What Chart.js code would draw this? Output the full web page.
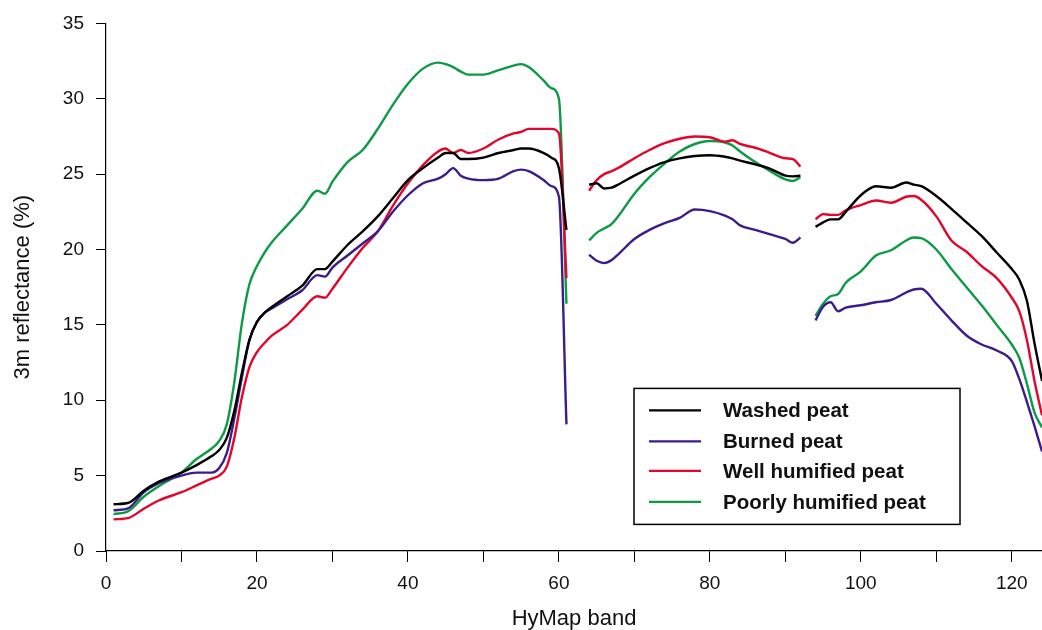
<!DOCTYPE html>
<html>
<head>
<meta charset="utf-8">
<script src="https://cdn.jsdelivr.net/npm/chart.js@4.4.1/dist/chart.umd.min.js"></script>
<style>
  html, body { margin: 0; padding: 0; background: #fff; }
  #wrap { width: 1042px; height: 630px; position: relative; }
</style>
</head>
<body>
<div id="wrap"><canvas id="c" width="1042" height="630"></canvas></div>
<script>
// HyMap band numbers (null values at 62 and 93 mark the gaps between detector segments)
const bands = [1,3,5,7,10,12,14,15,16,17,18,19,20,21,22,24,26,28,29,30,32,34,36,38,40,42,44,45,46,47,48,50,52,54,55,56,58,59,60,61,
  62,
  64,65,66,67,68,70,72,74,76,78,80,82,83,84,86,88,90,91,92,
  93,
  94,95,96,97,98,100,102,104,106,107,108,110,112,114,116,118,120,121,122,123,124];

const washedPeat = [3.1,3.2,4.0,4.6,5.2,5.7,6.3,6.7,7.5,9.3,11.8,14.0,15.2,15.8,16.2,16.9,17.6,18.7,18.7,19.2,20.3,21.2,22.2,23.4,24.6,25.4,26.1,26.4,26.4,26.0,26.0,26.1,26.4,26.6,26.7,26.7,26.4,26.1,25.4,21.3,
  null,
  24.3,24.4,24.05,24.1,24.35,24.9,25.4,25.8,26.05,26.2,26.25,26.15,26.05,25.9,25.65,25.35,24.9,24.85,24.9,
  null,
  21.5,21.8,22.0,22.0,22.5,23.6,24.2,24.1,24.45,24.3,24.2,23.55,22.7,21.8,20.9,19.8,18.7,18.0,16.6,13.8,11.3];

const burnedPeat = [2.7,2.85,3.9,4.5,5.0,5.2,5.2,5.5,6.5,8.8,11.5,14.0,15.2,15.8,16.1,16.7,17.3,18.3,18.2,18.8,19.6,20.4,21.2,22.5,23.6,24.4,24.7,25.0,25.4,24.9,24.7,24.6,24.7,25.2,25.3,25.2,24.6,24.2,23.5,8.4,
  null,
  19.65,19.25,19.1,19.3,19.75,20.7,21.3,21.75,22.1,22.65,22.55,22.25,22.0,21.6,21.3,21.0,20.7,20.45,20.8,
  null,
  15.3,16.2,16.5,15.9,16.15,16.3,16.5,16.65,17.15,17.35,17.4,16.4,15.3,14.3,13.7,13.3,12.6,11.4,9.9,8.3,6.6];

const wellHumified = [2.1,2.2,2.8,3.35,3.9,4.35,4.8,5.0,5.6,7.5,10.2,12.2,13.2,13.8,14.3,15.0,16.0,16.9,16.8,17.4,18.8,20.1,21.2,22.9,24.4,25.6,26.5,26.7,26.4,26.6,26.4,26.7,27.3,27.7,27.8,28.0,28.0,28.0,27.7,18.1,
  null,
  23.9,24.6,25.0,25.2,25.45,26.05,26.6,27.05,27.35,27.5,27.45,27.15,27.25,27.0,26.75,26.4,26.05,26.0,25.5,
  null,
  22.0,22.35,22.3,22.3,22.6,22.95,23.25,23.1,23.5,23.55,23.3,22.2,20.6,19.85,18.9,18.1,16.8,15.9,14.0,11.3,9.0];

const poorlyHumified = [2.45,2.65,3.6,4.3,5.2,6.1,6.8,7.3,8.4,11.2,15.1,17.7,18.9,19.8,20.5,21.6,22.7,23.9,23.7,24.5,25.8,26.6,28.0,29.6,31.0,32.0,32.4,32.3,32.1,31.8,31.6,31.6,31.9,32.2,32.3,32.1,31.2,30.7,30.0,16.4,
  null,
  20.6,21.1,21.4,21.7,22.3,23.7,24.8,25.7,26.5,27.0,27.2,27.1,26.9,26.5,25.8,25.2,24.65,24.55,24.8,
  null,
  15.6,16.4,16.9,17.05,17.8,18.55,19.6,19.95,20.6,20.8,20.75,20.0,18.7,17.5,16.3,15.0,13.7,12.8,11.1,9.2,8.2];

const seriesNames = ['Washed peat','Burned peat','Well humified peat','Poorly humified peat'];
const seriesColors = ['#000000','#3b1c8c','#e2062c','#0c9a45'];
const xTickLabels = [0,20,40,60,80,100,120];
const yTickLabels = [0,5,10,15,20,25,30,35];

const seriesValues = [washedPeat, burnedPeat, wellHumified, poorlyHumified];
const datasets = seriesValues.map((vals, i) => ({
  label: seriesNames[i],
  data: bands.map((b, j) => ({ x: b, y: vals[j] })),
  borderColor: seriesColors[i],
  backgroundColor: seriesColors[i],
  borderWidth: 2.4,
  pointRadius: 0,
  fill: false,
  spanGaps: false,
  cubicInterpolationMode: 'monotone'
}));

const legendPlugin = {
  id: 'boxLegend',
  afterDraw(chart) {
    const ctx = chart.ctx;
    const a = chart.chartArea;
    const bx = a.left + 528, by = a.top + 365, bw = 326, bh = 136;
    ctx.save();
    ctx.fillStyle = '#ffffff';
    ctx.fillRect(bx, by, bw, bh);
    ctx.strokeStyle = '#000';
    ctx.lineWidth = 1.5;
    ctx.strokeRect(bx, by, bw, bh);
    const rows = [22, 53, 82.5, 113.5];
    ctx.font = 'bold 20.5px "Liberation Sans", Arial, sans-serif';
    ctx.textBaseline = 'middle';
    ctx.textAlign = 'left';
    chart.data.datasets.forEach((ds, i) => {
      const y = by + rows[i];
      ctx.strokeStyle = ds.borderColor;
      ctx.lineWidth = 2.4;
      ctx.beginPath();
      ctx.moveTo(bx + 15, y);
      ctx.lineTo(bx + 67, y);
      ctx.stroke();
      ctx.fillStyle = '#111';
      ctx.fillText(ds.label, bx + 89, y + 1);
    });
    ctx.restore();
  }
};

new Chart(document.getElementById('c'), {
  type: 'line',
  data: { datasets },
  plugins: [legendPlugin],
  options: {
    responsive: false,
    animation: false,
    layout: { padding: { top: 22, right: 0, left: 0, bottom: 0 } },
    plugins: { legend: { display: false }, tooltip: { enabled: false } },
    scales: {
      x: {
        type: 'linear',
        min: 0, max: 124,
        afterFit(s) { s.height = 79; },
        border: { display: true, color: '#000', width: 1.2 },
        grid: { drawOnChartArea: false, drawTicks: true, tickLength: 11, color: '#000', lineWidth: 1 },
        ticks: {
          stepSize: 10, autoSkip: false, includeBounds: false, maxRotation: 0,
          padding: 10, color: '#111',
          font: { family: '"Liberation Sans", Arial, sans-serif', size: 19 },
          callback: v => xTickLabels.includes(v) ? String(v) : ''
        },
        title: { display: true, text: 'HyMap band', color: '#111', padding: { top: 0, bottom: 0 },
          font: { family: '"Liberation Sans", Arial, sans-serif', size: 22, lineHeight: 1.0 } }
      },
      y: {
        type: 'linear',
        min: 0, max: 35,
        afterFit(s) { s.width = 106; },
        border: { display: true, color: '#000', width: 1.2 },
        grid: { drawOnChartArea: false, drawTicks: true, tickLength: 10, color: '#000', lineWidth: 1 },
        ticks: {
          stepSize: 5, autoSkip: false, padding: 12, color: '#111',
          font: { family: '"Liberation Sans", Arial, sans-serif', size: 19 },
          callback: v => yTickLabels.includes(v) ? String(v) : ''
        },
        title: { display: true, text: '3m reflectance (%)', color: '#111', padding: { top: 10, bottom: 0 },
          font: { family: '"Liberation Sans", Arial, sans-serif', size: 22 } }
      }
    }
  }
});
</script>
</body>
</html>
